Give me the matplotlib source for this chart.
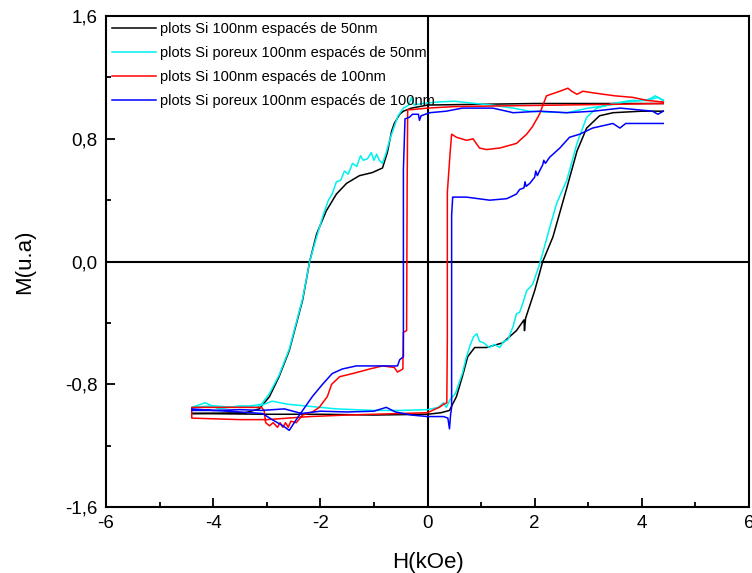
import numpy as np
import matplotlib
matplotlib.use("Agg")
import matplotlib.pyplot as plt
from matplotlib.ticker import MultipleLocator, FuncFormatter

plt.rcParams['font.family'] = ['Liberation Sans', 'DejaVu Sans']
plt.rcParams['axes.unicode_minus'] = False

labels = ["plots Si 100nm espacés de 50nm",
          "plots Si poreux 100nm espacés de 50nm",
          "plots Si 100nm espacés de 100nm",
          "plots Si poreux 100nm espacés de 100nm"]
colors = ["#000000", "#00f0f0", "#ff0000", "#0000ff"]

# (H in kOe, M in u.a), descending branch then ascending branch
black_loop = [
    (4.4, 1.03), (3.0, 1.03), (2.0, 1.03), (1.0, 1.025), (0.0, 1.02), (-0.3, 1.0),
    (-0.45, 0.98), (-0.52, 0.96), (-0.62, 0.90), (-0.67, 0.85), (-0.75, 0.71),
    (-0.84, 0.61), (-1.03, 0.58), (-1.27, 0.56), (-1.51, 0.51), (-1.7, 0.44),
    (-1.89, 0.33), (-2.07, 0.18), (-2.2, 0.0), (-2.33, -0.25), (-2.58, -0.58),
    (-2.77, -0.75), (-2.95, -0.88), (-3.14, -0.96), (-3.4, -0.985), (-4.4, -0.99),
    (-3.0, -0.995), (-2.0, -0.995), (-1.0, -1.0), (0.0, -0.995), (0.25, -0.985),
    (0.41, -0.97), (0.54, -0.88), (0.65, -0.75), (0.75, -0.62), (0.88, -0.56),
    (1.1, -0.56), (1.4, -0.53), (1.66, -0.45), (1.80, -0.38), (1.81, -0.45),
    (1.83, -0.37), (2.0, -0.19), (2.15, 0.0), (2.34, 0.16), (2.6, 0.48),
    (2.79, 0.72), (2.97, 0.87), (3.21, 0.95), (3.46, 0.97), (4.0, 0.98), (4.4, 0.98),
]

cyan_loop = [
    (4.4, 1.05), (4.3, 1.07), (4.2, 1.06), (4.0, 1.05), (3.7, 1.04), (3.4, 1.02),
    (3.0, 1.0), (2.6, 0.97), (2.2, 0.975), (1.9, 0.98), (1.6, 1.0), (1.2, 1.02),
    (0.9, 1.03), (0.5, 1.045), (0.2, 1.04), (-0.1, 1.03), (-0.25, 1.02), (-0.3, 1.07),
    (-0.35, 1.02), (-0.45, 1.0), (-0.55, 0.95), (-0.62, 0.88), (-0.7, 0.80),
    (-0.78, 0.70), (-0.84, 0.64), (-0.9, 0.66), (-0.95, 0.70), (-1.0, 0.66),
    (-1.05, 0.71), (-1.12, 0.67), (-1.2, 0.66), (-1.25, 0.69), (-1.32, 0.62),
    (-1.4, 0.64), (-1.48, 0.57), (-1.55, 0.59), (-1.62, 0.53), (-1.7, 0.52),
    (-1.78, 0.44), (-1.85, 0.40), (-1.95, 0.30), (-2.07, 0.16), (-2.2, 0.0),
    (-2.33, -0.24), (-2.58, -0.57), (-2.77, -0.74), (-2.95, -0.86), (-3.1, -0.93),
    (-3.3, -0.94), (-3.6, -0.95), (-4.0, -0.94), (-4.4, -0.95),
    (-4.15, -0.92), (-3.9, -0.96), (-3.5, -0.94), (-3.2, -0.95), (-2.9, -0.91),
    (-2.6, -0.93), (-2.3, -0.94), (-1.7, -0.96), (-1.0, -0.97), (-0.5, -0.97),
    (0.0, -0.965), (0.2, -0.95), (0.3, -0.92), (0.35, -0.95), (0.42, -0.90),
    (0.47, -0.88), (0.52, -0.86), (0.58, -0.80), (0.65, -0.73), (0.72, -0.63),
    (0.8, -0.54), (0.86, -0.49), (0.92, -0.47), (0.97, -0.52), (1.05, -0.53),
    (1.15, -0.56), (1.25, -0.54), (1.35, -0.56), (1.42, -0.52), (1.5, -0.51),
    (1.6, -0.42), (1.66, -0.34), (1.72, -0.33), (1.78, -0.27), (1.85, -0.19),
    (1.96, -0.15), (2.09, -0.02), (2.28, 0.22), (2.41, 0.38), (2.6, 0.53),
    (2.79, 0.77), (2.97, 0.94), (3.16, 1.0), (3.46, 1.03), (3.8, 1.05),
    (4.1, 1.05), (4.25, 1.08), (4.4, 1.05),
]

red_loop = [
    (4.4, 1.03), (3.5, 1.025), (2.5, 1.02), (1.5, 1.015), (0.5, 1.01), (0.0, 1.0),
    (-0.3, 0.99), (-0.37, 0.99), (-0.38, 0.5), (-0.39, -0.45), (-0.45, -0.46),
    (-0.46, -0.70), (-0.56, -0.72), (-0.62, -0.69), (-0.84, -0.68), (-1.08, -0.70),
    (-1.4, -0.73), (-1.64, -0.75), (-1.79, -0.80), (-1.87, -0.88), (-2.02, -0.95),
    (-2.15, -0.98), (-2.33, -1.0), (-2.45, -1.05), (-2.55, -1.04), (-2.6, -1.08),
    (-2.65, -1.05), (-2.7, -1.08), (-2.75, -1.05), (-2.8, -1.08), (-2.88, -1.05),
    (-2.95, -1.07), (-3.02, -1.05), (-3.05, -0.97), (-3.1, -0.95), (-3.5, -0.95),
    (-4.0, -0.95), (-4.4, -0.95),
    (-4.4, -1.02), (-3.5, -1.03), (-3.0, -1.03), (-2.6, -1.02), (-2.2, -1.01),
    (-1.5, -1.0), (-0.5, -0.99), (0.0, -0.985), (0.15, -0.96), (0.22, -0.95),
    (0.3, -0.93), (0.36, -0.92), (0.37, -0.5), (0.37, 0.45), (0.39, 0.55),
    (0.42, 0.70), (0.45, 0.83), (0.54, 0.81), (0.73, 0.79), (0.85, 0.80),
    (0.97, 0.74), (1.1, 0.73), (1.35, 0.74), (1.66, 0.77), (1.85, 0.83),
    (1.96, 0.88), (2.09, 0.96), (2.22, 1.08), (2.47, 1.11), (2.62, 1.13),
    (2.69, 1.11), (2.79, 1.09), (2.9, 1.11), (3.08, 1.10), (3.5, 1.08),
    (3.83, 1.07), (4.1, 1.05), (4.4, 1.04),
]

blue_loop = [
    (4.4, 0.98), (4.3, 0.96), (4.2, 0.98), (3.9, 0.99), (3.6, 1.0), (3.1, 0.98),
    (2.6, 0.97), (2.1, 0.98), (1.6, 0.97), (1.22, 1.0), (0.65, 1.0), (0.35, 0.98),
    (0.04, 0.97), (-0.12, 0.95), (-0.15, 0.92), (-0.17, 0.96), (-0.28, 0.96),
    (-0.34, 0.94), (-0.42, 0.93), (-0.45, 0.6), (-0.45, -0.62), (-0.52, -0.64),
    (-0.56, -0.68), (-0.9, -0.68), (-1.33, -0.68), (-1.59, -0.70), (-1.78, -0.73),
    (-1.96, -0.80), (-2.15, -0.88), (-2.33, -0.97), (-2.45, -1.03), (-2.58, -1.10),
    (-2.7, -1.07), (-2.9, -1.03), (-3.08, -0.99), (-3.5, -0.98), (-4.0, -0.97),
    (-4.4, -0.97),
    (-4.4, -0.96), (-4.0, -0.97), (-3.5, -0.965), (-3.1, -0.97), (-2.67, -0.96),
    (-2.35, -0.99), (-2.0, -0.975), (-1.5, -0.98), (-1.0, -0.975), (-0.77, -0.95),
    (-0.6, -0.98), (-0.3, -1.0), (0.0, -1.01), (0.3, -1.01), (0.38, -1.02),
    (0.41, -1.09), (0.43, -1.0), (0.45, -0.95), (0.45, 0.3), (0.47, 0.42),
    (0.73, 0.42), (1.16, 0.40), (1.48, 0.41), (1.66, 0.44), (1.72, 0.47),
    (1.8, 0.48), (1.82, 0.52), (1.84, 0.49), (1.91, 0.51), (2.0, 0.55),
    (2.02, 0.59), (2.05, 0.56), (2.09, 0.59), (2.15, 0.63), (2.17, 0.66),
    (2.2, 0.64), (2.28, 0.68), (2.47, 0.74), (2.65, 0.81), (2.84, 0.83),
    (3.08, 0.87), (3.46, 0.90), (3.59, 0.87), (3.7, 0.90), (4.0, 0.90),
    (4.4, 0.90),
]

loops = [black_loop, cyan_loop, red_loop, blue_loop]

fig = plt.figure(figsize=(7.52, 5.73), dpi=100)
ax = fig.add_axes([0.141, 0.115, 0.855, 0.857])

for loop, col, lab in zip(loops, colors, labels):
    pts = np.array(loop)
    ax.plot(pts[:, 0], pts[:, 1], color=col, lw=1.1, label=lab)

ax.axhline(0, color='black', lw=1.5, zorder=1)
ax.axvline(0, color='black', lw=1.5, zorder=1)

ax.set_xlim(-6, 6)
ax.set_ylim(-1.6, 1.6)
ax.xaxis.set_major_locator(MultipleLocator(2))
ax.xaxis.set_minor_locator(MultipleLocator(1))
ax.yaxis.set_major_locator(MultipleLocator(0.8))
ax.yaxis.set_minor_locator(MultipleLocator(0.4))
ax.xaxis.set_major_formatter(FuncFormatter(lambda v, p: "%d" % round(v)))
ax.yaxis.set_major_formatter(FuncFormatter(lambda v, p: ("%.1f" % v).replace('.', ',')))
ax.tick_params(which='both', direction='in', width=1.3, labelsize=13.5, pad=6)
ax.tick_params(which='major', length=6.5)
ax.tick_params(which='minor', length=3.5)
for s in ax.spines.values():
    s.set_linewidth(1.5)

ax.set_xlabel("H(kOe)", fontsize=16, labelpad=14)
ax.set_ylabel("M(u.a)", fontsize=16, labelpad=22)

ax.legend(loc='upper left', frameon=False, fontsize=10.5, handlelength=3.0,
          handletextpad=0.3, labelspacing=0.68, borderpad=0.4, borderaxespad=0)

fig.savefig("out.png", dpi=100)
